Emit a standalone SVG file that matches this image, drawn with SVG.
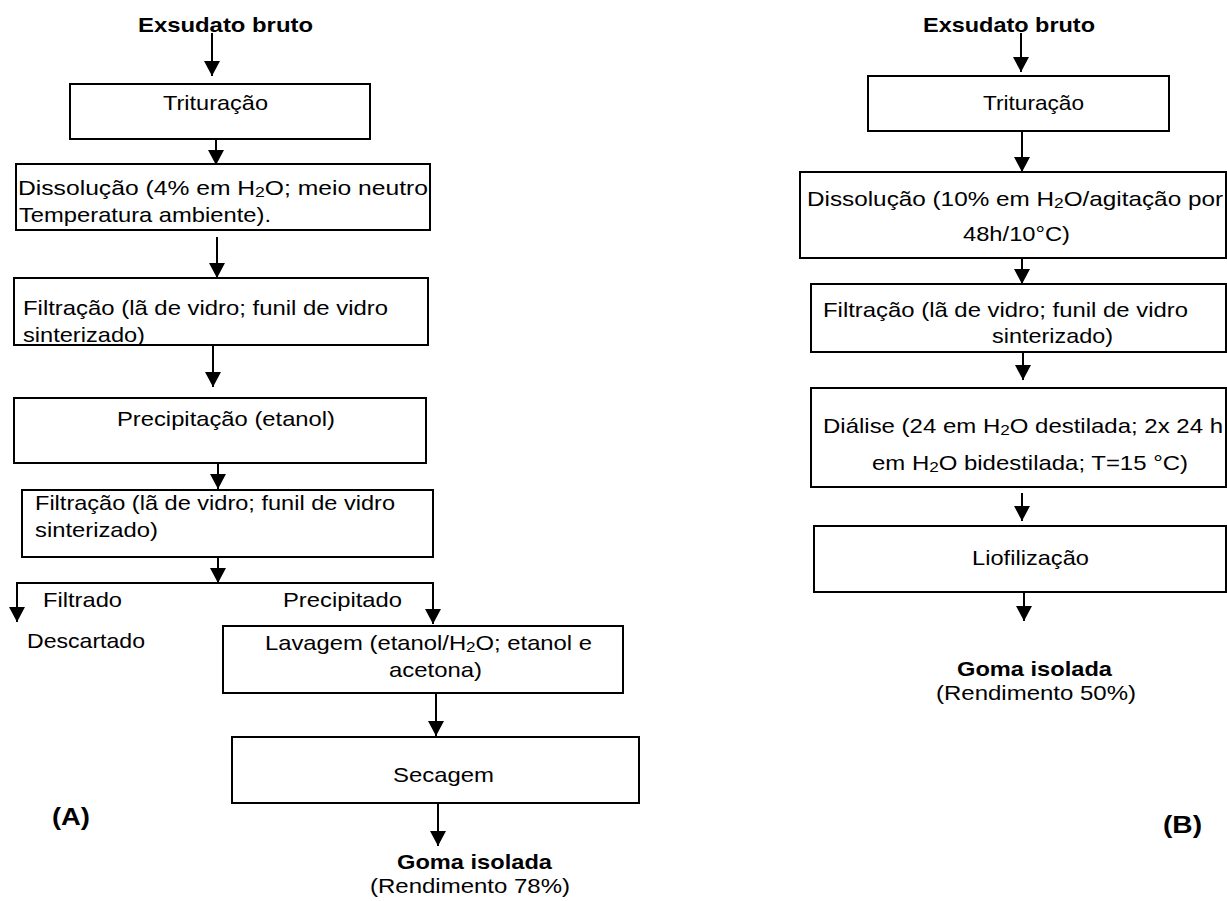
<svg xmlns="http://www.w3.org/2000/svg" width="1227" height="901" viewBox="0 0 1227 901">
<style>
.bx{fill:#fff;stroke:#000;stroke-width:2}
.t{font-family:"Liberation Sans",Arial,sans-serif;font-size:21px;fill:#000}
.b{font-weight:bold}
.sub{font-size:15px}
.lab{font-family:"Liberation Sans",Arial,sans-serif;font-size:24px;font-weight:bold;fill:#000}
.cn{stroke:#000;stroke-width:2;fill:none}
.ar{marker-end:url(#ah)}
</style>
<defs>
<marker id="ah" markerUnits="userSpaceOnUse" markerWidth="16" markerHeight="16" refX="15" refY="8" orient="auto"><path d="M0,0 L15,8 L0,16 Z" fill="#000"/></marker>
</defs>
<rect x="0" y="0" width="1227" height="901" fill="#fff"/>

<!-- Panel A -->
<g id="a-exsudato"><text class="t b" x="138" y="32" textLength="175" lengthAdjust="spacingAndGlyphs">Exsudato bruto</text></g>
<g id="a-trituracao"><rect class="bx" x="70" y="84" width="300" height="55"/><text class="t" x="163" y="110" textLength="105" lengthAdjust="spacingAndGlyphs">Trituração</text></g>
<g id="a-dissolucao"><rect class="bx" x="16" y="164" width="414" height="66"/>
<text class="t" x="18" y="195" textLength="410" lengthAdjust="spacingAndGlyphs">Dissolução (4% em H<tspan class="sub" dy="2">2</tspan><tspan dy="-2">O; meio neutro</tspan></text>
<text class="t" x="19" y="222" textLength="252" lengthAdjust="spacingAndGlyphs">Temperatura ambiente).</text></g>
<g id="a-filtracao1"><rect class="bx" x="14" y="278" width="414" height="67"/>
<text class="t" x="23" y="315" textLength="365" lengthAdjust="spacingAndGlyphs">Filtração (lã de vidro; funil de vidro</text>
<text class="t" x="23" y="342" textLength="122" lengthAdjust="spacingAndGlyphs">sinterizado)</text></g>
<g id="a-precipitacao"><rect class="bx" x="14" y="398" width="412" height="65"/>
<text class="t" x="117" y="426" textLength="218" lengthAdjust="spacingAndGlyphs">Precipitação (etanol)</text></g>
<g id="a-filtracao2"><rect class="bx" x="22" y="490" width="411" height="67"/>
<text class="t" x="35" y="510" textLength="360" lengthAdjust="spacingAndGlyphs">Filtração (lã de vidro; funil de vidro</text>
<text class="t" x="35" y="537" textLength="123" lengthAdjust="spacingAndGlyphs">sinterizado)</text></g>
<g id="a-filtrado"><text class="t" x="43" y="607" textLength="79" lengthAdjust="spacingAndGlyphs">Filtrado</text></g>
<g id="a-precipitado"><text class="t" x="283" y="607" textLength="119" lengthAdjust="spacingAndGlyphs">Precipitado</text></g>
<g id="a-descartado"><text class="t" x="27" y="648" textLength="118" lengthAdjust="spacingAndGlyphs">Descartado</text></g>
<g id="a-lavagem"><rect class="bx" x="223" y="626" width="400" height="67"/>
<text class="t" x="265" y="650" textLength="327" lengthAdjust="spacingAndGlyphs">Lavagem (etanol/H<tspan class="sub" dy="2">2</tspan><tspan dy="-2">O; etanol e</tspan></text>
<text class="t" x="389" y="677" textLength="93" lengthAdjust="spacingAndGlyphs">acetona)</text></g>
<g id="a-secagem"><rect class="bx" x="232" y="737" width="407" height="66"/>
<text class="t" x="393" y="782" textLength="101" lengthAdjust="spacingAndGlyphs">Secagem</text></g>
<g id="a-goma"><text class="t b" x="397" y="869" textLength="155" lengthAdjust="spacingAndGlyphs">Goma isolada</text>
<text class="t" x="370" y="893" textLength="200" lengthAdjust="spacingAndGlyphs">(Rendimento 78%)</text></g>
<g id="label-a"><text class="lab" x="52" y="825" textLength="38" lengthAdjust="spacingAndGlyphs">(A)</text></g>

<!-- Panel B -->
<g id="b-exsudato"><text class="t b" x="923" y="32" textLength="172" lengthAdjust="spacingAndGlyphs">Exsudato bruto</text></g>
<g id="b-trituracao"><rect class="bx" x="868" y="76" width="301" height="55"/><text class="t" x="983" y="110" textLength="101" lengthAdjust="spacingAndGlyphs">Trituração</text></g>
<g id="b-dissolucao"><rect class="bx" x="800" y="172" width="426" height="86"/>
<text class="t" x="807" y="206" textLength="416" lengthAdjust="spacingAndGlyphs">Dissolução (10% em H<tspan class="sub" dy="2">2</tspan><tspan dy="-2">O/agitação por</tspan></text>
<text class="t" x="963" y="241" textLength="107" lengthAdjust="spacingAndGlyphs">48h/10°C)</text></g>
<g id="b-filtracao"><rect class="bx" x="811" y="284" width="415" height="68"/>
<text class="t" x="823" y="317" textLength="365" lengthAdjust="spacingAndGlyphs">Filtração (lã de vidro; funil de vidro</text>
<text class="t" x="992" y="343" textLength="121" lengthAdjust="spacingAndGlyphs">sinterizado)</text></g>
<g id="b-dialise"><rect class="bx" x="811" y="388" width="415" height="99"/>
<text class="t" x="823" y="433" textLength="400" lengthAdjust="spacingAndGlyphs">Diálise (24 em H<tspan class="sub" dy="2">2</tspan><tspan dy="-2">O destilada; 2x 24 h</tspan></text>
<text class="t" x="872" y="470" textLength="316" lengthAdjust="spacingAndGlyphs">em H<tspan class="sub" dy="2">2</tspan><tspan dy="-2">O bidestilada; T=15 °C)</tspan></text></g>
<g id="b-liofilizacao"><rect class="bx" x="814" y="526" width="412" height="66"/>
<text class="t" x="972" y="565" textLength="117" lengthAdjust="spacingAndGlyphs">Liofilização</text></g>
<g id="b-goma"><text class="t b" x="957" y="676" textLength="155" lengthAdjust="spacingAndGlyphs">Goma isolada</text>
<text class="t" x="936" y="700" textLength="200" lengthAdjust="spacingAndGlyphs">(Rendimento 50%)</text></g>
<g id="label-b"><text class="lab" x="1163" y="833" textLength="39" lengthAdjust="spacingAndGlyphs">(B)</text></g>

<g id="connectors">
<line class="cn ar" x1="212" y1="33" x2="212" y2="76"/>
<line class="cn ar" x1="216" y1="139" x2="216" y2="165"/>
<line class="cn ar" x1="217" y1="237" x2="217" y2="278"/>
<line class="cn ar" x1="213" y1="345" x2="213" y2="387"/>
<line class="cn ar" x1="218" y1="463" x2="218" y2="489"/>
<line class="cn ar" x1="218" y1="557" x2="218" y2="583"/>
<polyline class="cn" points="17,583 433,583"/>
<line class="cn ar" x1="17" y1="582" x2="17" y2="622"/>
<line class="cn ar" x1="433" y1="582" x2="433" y2="624"/>
<line class="cn ar" x1="436" y1="693" x2="436" y2="736"/>
<line class="cn ar" x1="438" y1="803" x2="438" y2="846"/>
<line class="cn ar" x1="1021" y1="33" x2="1021" y2="72"/>
<line class="cn ar" x1="1022" y1="131" x2="1022" y2="172"/>
<line class="cn ar" x1="1022" y1="258" x2="1022" y2="284"/>
<line class="cn ar" x1="1023" y1="352" x2="1023" y2="380"/>
<line class="cn ar" x1="1022" y1="493" x2="1022" y2="521"/>
<line class="cn ar" x1="1024" y1="592" x2="1024" y2="621"/>
</g>
</svg>
